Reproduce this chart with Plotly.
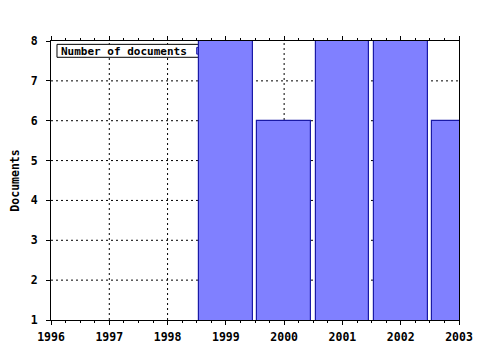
import plotly.graph_objects as go

years = [1999, 2000, 2001, 2002, 2003]
documents = [8, 6, 8, 8, 6]
x_ticks = [1996, 1997, 1998, 1999, 2000, 2001, 2002, 2003]
y_ticks = [1, 2, 3, 4, 5, 6, 7, 8]
legend_label = "Number of documents"
y_title = "Documents"

FONT = "DejaVu Sans Mono"
BAR_FILL = "#8080ff"
BAR_LINE = "#1a1aa6"
DASH = "2px,3px"

fig = go.Figure()
fig.add_trace(go.Bar(
    x=years, y=documents, width=0.92,
    marker=dict(color=BAR_FILL, line=dict(color=BAR_LINE, width=1.2)),
    showlegend=False,
))

# dotted grid lines, drawn below the legend box and bars
for v in x_ticks[1:-1]:
    fig.add_shape(type="line", xref="x", yref="y domain", x0=v, x1=v, y0=0, y1=1,
                  line=dict(color="black", width=1, dash=DASH), layer="below")
for v in y_ticks[1:-1]:
    fig.add_shape(type="line", xref="x domain", yref="y", x0=0, x1=1, y0=v, y1=v,
                  line=dict(color="black", width=1, dash=DASH), layer="below")

# legend box (drawn beneath the bars, as in the original)
fig.add_shape(
    type="rect", xref="x domain", yref="y domain",
    x0=0.0147, x1=0.40, y0=0.9416, y1=0.988,
    fillcolor="white", line=dict(color="black", width=1), layer="below",
    label=dict(text="<b>" + legend_label + "</b>", textposition="middle left",
               font=dict(family=FONT, size=11, color="black"), padding=1),
)
fig.add_shape(
    type="rect", xref="x domain", yref="y domain",
    x0=0.3571, x1=0.374, y0=0.953, y1=0.977,
    fillcolor=BAR_FILL, line=dict(color=BAR_LINE, width=1), layer="below",
)

axis_font = dict(family=FONT, size=11.5, color="black")
fig.update_xaxes(
    range=[1996, 2003], tickvals=x_ticks, ticktext=["<b>%d</b>" % v for v in x_ticks],
    ticks="outside", ticklen=4, tickcolor="black", tickfont=axis_font,
    showline=True, linecolor="black", linewidth=1, mirror="ticks",
    showgrid=False, ticklabelstandoff=2, automargin=False,
    minor=dict(dtick=0.25, tick0=1996, ticks="outside", ticklen=2, tickcolor="black", showgrid=False),
    zeroline=False,
)
fig.update_yaxes(
    range=[1, 8], tickvals=y_ticks, ticktext=["<b>%d</b>" % v for v in y_ticks],
    ticks="outside", ticklen=4, tickcolor="black", tickfont=axis_font,
    showline=True, linecolor="black", linewidth=1, mirror=True,
    showgrid=False, ticklabelstandoff=6, automargin=False,
    zeroline=False,
    title=dict(text="<b>" + y_title + "</b>", font=axis_font, standoff=8),
)
fig.update_layout(
    width=480, height=350,
    margin=dict(l=51, r=21, t=41, b=30),
    plot_bgcolor="white", paper_bgcolor="white",
    bargap=0,
)
fig.write_html("out.html")
